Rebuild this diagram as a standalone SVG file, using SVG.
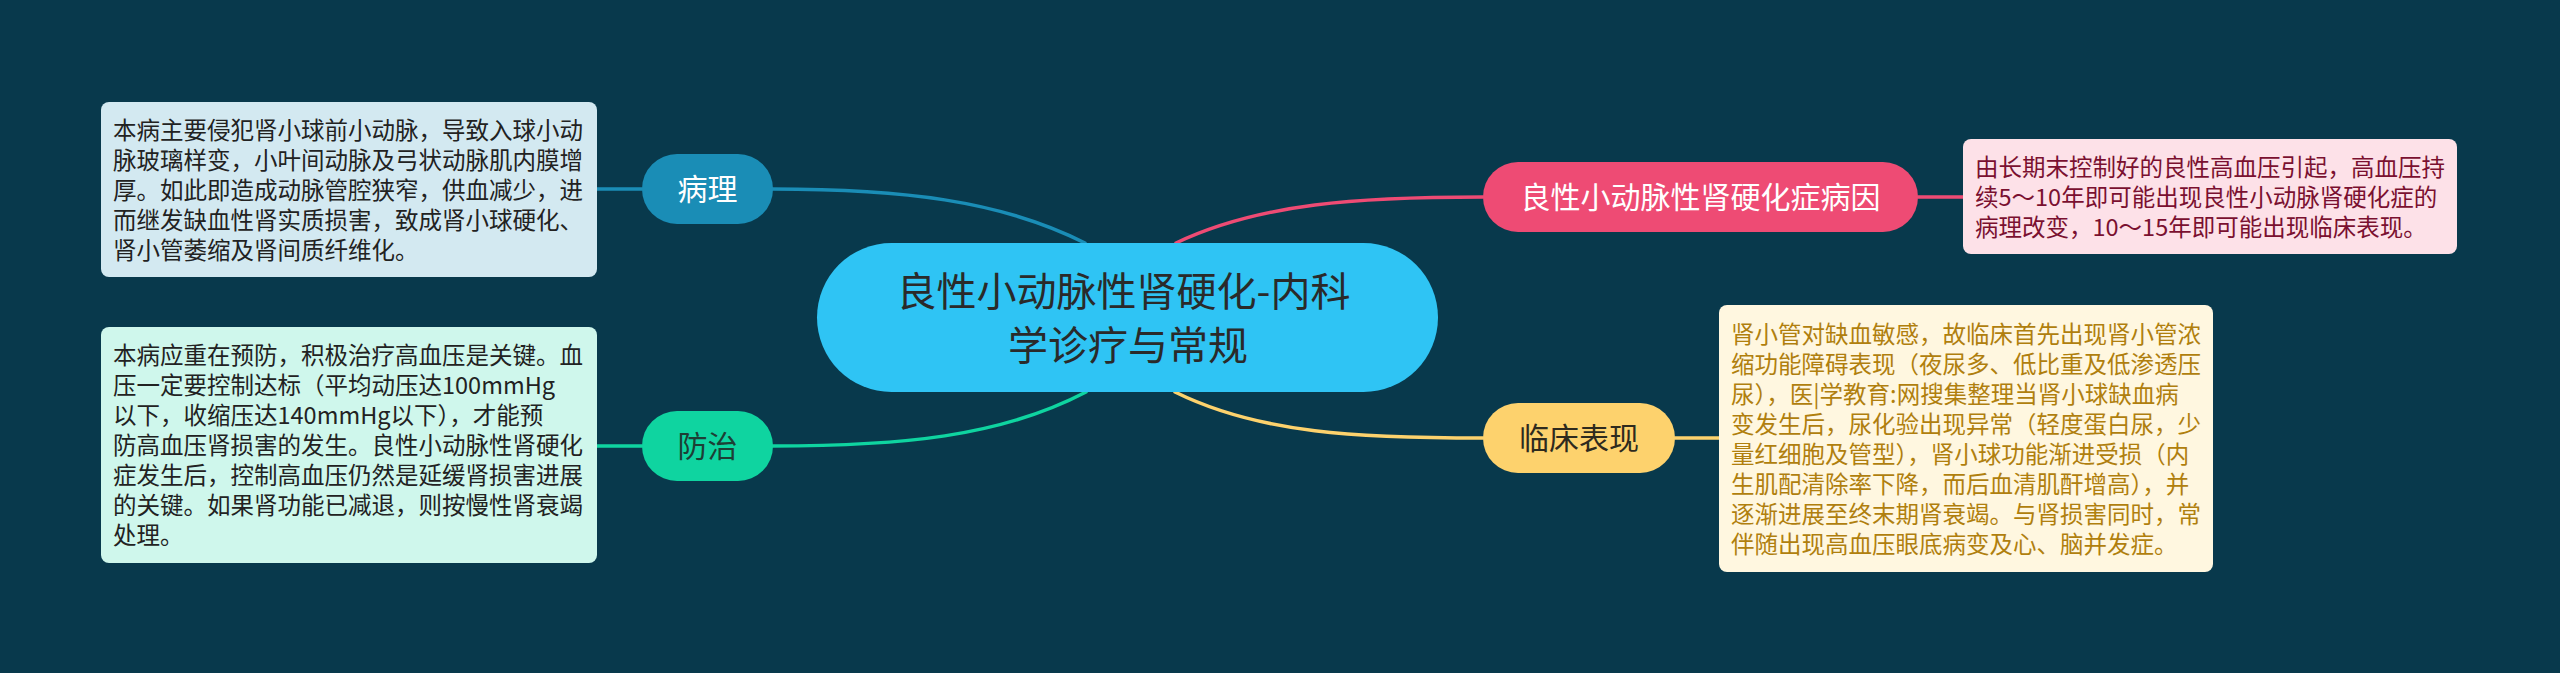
<svg xmlns="http://www.w3.org/2000/svg" width="2560" height="673" viewBox="0 0 2560 673">
<style>
  .cjk { font-family: "Noto Sans CJK SC", "Noto Sans", "Liberation Sans", sans-serif; }
  .box { font-size: 23.5px; }
  .node { font-size: 30px; text-anchor: middle; }
  .conn { fill: none; stroke-width: 3.5; stroke-linecap: round; }
</style>
<rect x="0" y="0" width="2560" height="673" fill="#08394c"/>

<g id="connectors">
  <path class="conn" stroke="#1a8db6" d="M1085,243 C1000,200 900,189 772,189"/>
  <path class="conn" stroke="#ee4b74" d="M1176,243 C1260,203 1360,197 1483,197"/>
  <path class="conn" stroke="#0fd4a0" d="M1086,392 C1000,437 900,446 772,446"/>
  <path class="conn" stroke="#fdd26d" d="M1175,392 C1260,434 1360,438 1483,438"/>
  <path class="conn" stroke="#1a8db6" d="M597,189 L642,189"/>
  <path class="conn" stroke="#0fd4a0" d="M597,446 L642,446"/>
  <path class="conn" stroke="#ee4b74" d="M1918,197 L1963,197"/>
  <path class="conn" stroke="#fdd26d" d="M1675,438 L1719,438"/>
</g>

<g id="root">
  <rect x="817" y="243" width="621" height="149" rx="74.5" fill="#2fc4f4"/>
  <text class="cjk" font-size="40" text-anchor="middle" fill="#2a2a2a">
    <tspan x="1128" y="306">良性小动脉性肾硬化-内科</tspan>
    <tspan x="1128" y="360">学诊疗与常规</tspan>
  </text>
</g>

<g id="node-bingli">
  <rect x="642" y="154" width="131" height="70" rx="35" fill="#1a8db6"/>
  <text class="cjk node" x="707.5" y="200" fill="#ffffff">病理</text>
</g>

<g id="node-fangzhi">
  <rect x="642" y="411" width="131" height="70" rx="35" fill="#0fd4a0"/>
  <text class="cjk node" x="707.5" y="457" fill="#1d3f35">防治</text>
</g>

<g id="node-bingyin">
  <rect x="1483" y="162" width="435" height="70" rx="35" fill="#ee4b74"/>
  <text class="cjk node" x="1700.5" y="208" fill="#ffffff">良性小动脉性肾硬化症病因</text>
</g>

<g id="node-linchuang">
  <rect x="1483" y="403" width="192" height="70" rx="35" fill="#fdd26d"/>
  <text class="cjk node" x="1579" y="449" fill="#2e2a1e">临床表现</text>
</g>

<g id="box-bingli">
  <rect x="101" y="102" width="496" height="175" rx="8" fill="#d3e9f1"/>
  <text class="cjk box" fill="#222222">
    <tspan x="113" y="138.5">本病主要侵犯肾小球前小动脉，导致入球小动</tspan>
    <tspan x="113" y="168.5">脉玻璃样变，小叶间动脉及弓状动脉肌内膜增</tspan>
    <tspan x="113" y="198.5">厚。如此即造成动脉管腔狭窄，供血减少，进</tspan>
    <tspan x="113" y="228.5">而继发缺血性肾实质损害，致成肾小球硬化、</tspan>
    <tspan x="113" y="258.5">肾小管萎缩及肾间质纤维化。</tspan>
  </text>
</g>

<g id="box-fangzhi">
  <rect x="101" y="327" width="496" height="236" rx="8" fill="#cff7ec"/>
  <text class="cjk box" fill="#222222">
    <tspan x="113" y="364">本病应重在预防，积极治疗高血压是关键。血</tspan>
    <tspan x="113" y="394">压一定要控制达标（平均动压达100mmHg</tspan>
    <tspan x="113" y="424">以下，收缩压达140mmHg以下），才能预</tspan>
    <tspan x="113" y="454">防高血压肾损害的发生。良性小动脉性肾硬化</tspan>
    <tspan x="113" y="484">症发生后，控制高血压仍然是延缓肾损害进展</tspan>
    <tspan x="113" y="514">的关键。如果肾功能已减退，则按慢性肾衰竭</tspan>
    <tspan x="113" y="544">处理。</tspan>
  </text>
</g>

<g id="box-bingyin">
  <rect x="1963" y="139" width="494" height="115" rx="8" fill="#fde1e8"/>
  <text class="cjk box" fill="#7a1030">
    <tspan x="1975" y="175.5">由长期末控制好的良性高血压引起，高血压持</tspan>
    <tspan x="1975" y="205.5">续5～10年即可能出现良性小动脉肾硬化症的</tspan>
    <tspan x="1975" y="235.5">病理改变，10～15年即可能出现临床表现。</tspan>
  </text>
</g>

<g id="box-linchuang">
  <rect x="1719" y="305" width="494" height="267" rx="8" fill="#fff7e0"/>
  <text class="cjk box" fill="#b07f0e">
    <tspan x="1731" y="342.5">肾小管对缺血敏感，故临床首先出现肾小管浓</tspan>
    <tspan x="1731" y="372.5">缩功能障碍表现（夜尿多、低比重及低渗透压</tspan>
    <tspan x="1731" y="402.5">尿），医|学教育:网搜集整理当肾小球缺血病</tspan>
    <tspan x="1731" y="432.5">变发生后，尿化验出现异常（轻度蛋白尿，少</tspan>
    <tspan x="1731" y="462.5">量红细胞及管型），肾小球功能渐进受损（内</tspan>
    <tspan x="1731" y="492.5">生肌配清除率下降，而后血清肌酐增高），并</tspan>
    <tspan x="1731" y="522.5">逐渐进展至终末期肾衰竭。与肾损害同时，常</tspan>
    <tspan x="1731" y="552.5">伴随出现高血压眼底病变及心、脑并发症。</tspan>
  </text>
</g>
</svg>
